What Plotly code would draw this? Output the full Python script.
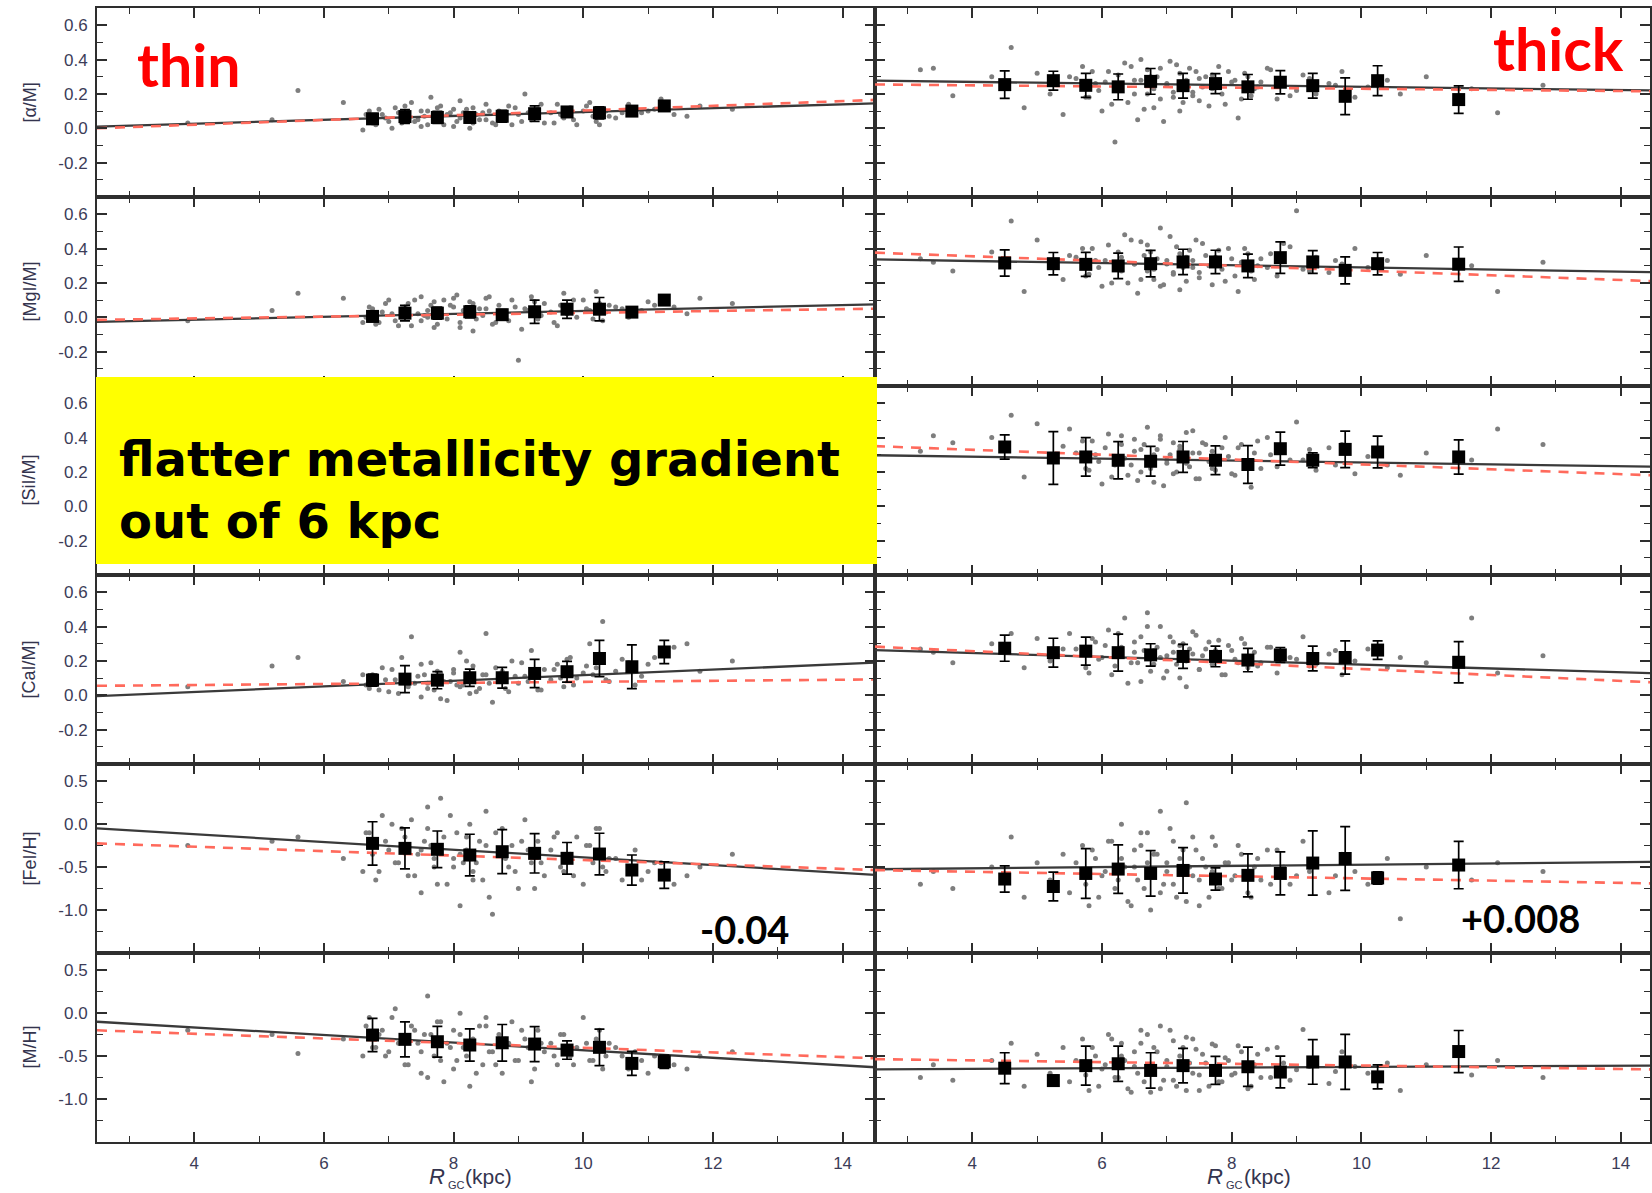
import plotly.graph_objects as go
from plotly.subplots import make_subplots

# ---------------- data ----------------
row_labels = ["[\u03b1/M]", "[MgI/M]", "[SiI/M]", "[CaI/M]", "[FeI/H]", "[M/H]"]

fit_x = [2.5, 14.5]

# thin disc: binned means
thin_bins = [6.75, 7.25, 7.75, 8.25, 8.75, 9.25, 9.75, 10.25, 10.75, 11.25]
thin_alpha = [0.055, 0.068, 0.063, 0.063, 0.07, 0.085, 0.095, 0.09, 0.10, 0.13]
thin_alpha_err = [0.03, 0.04, 0.035, 0.03, 0.035, 0.045, 0.03, 0.035, 0.025, 0.02]
thin_mg = [0.005, 0.024, 0.024, 0.032, 0.015, 0.032, 0.047, 0.047, 0.03, 0.10]
thin_mg_err = [0.03, 0.045, 0.035, 0.035, 0.03, 0.068, 0.053, 0.068, 0.02, 0.02]
thin_ca = [0.088, 0.094, 0.088, 0.102, 0.102, 0.127, 0.137, 0.214, 0.166, 0.252]
thin_ca_err = [0.035, 0.079, 0.05, 0.05, 0.06, 0.082, 0.06, 0.106, 0.127, 0.068]
thin_fe = [-0.224, -0.282, -0.293, -0.36, -0.321, -0.34, -0.398, -0.348, -0.534, -0.593]
thin_fe_err = [0.252, 0.239, 0.213, 0.242, 0.256, 0.229, 0.184, 0.242, 0.175, 0.155]
thin_mh = [-0.255, -0.305, -0.333, -0.371, -0.345, -0.36, -0.43, -0.398, -0.585, -0.566]
thin_mh_err = [0.194, 0.204, 0.179, 0.188, 0.213, 0.204, 0.107, 0.213, 0.14, 0.078]

# thin disc: fitted lines (black solid, red dashed) at fit_x
thin_alpha_fit = [0.01, 0.145]
thin_alpha_fit2 = [0.0, 0.165]
thin_mg_fit = [-0.027, 0.075]
thin_mg_fit2 = [-0.015, 0.05]
thin_ca_fit = [-0.005, 0.19]
thin_ca_fit2 = [0.055, 0.092]
thin_fe_fit = [-0.05, -0.59]
thin_fe_fit2 = [-0.224, -0.534]
thin_mh_fit = [-0.10, -0.63]
thin_mh_fit2 = [-0.20, -0.525]

# thick disc: binned means
thick_bins = [4.5, 5.25, 5.75, 6.25, 6.75, 7.25, 7.75, 8.25, 8.75, 9.25, 9.75, 10.25, 11.5]
thick_alpha = [0.254, 0.277, 0.25, 0.241, 0.273, 0.248, 0.26, 0.241, 0.268, 0.248, 0.186, 0.277, 0.167]
thick_alpha_err = [0.08, 0.055, 0.07, 0.075, 0.075, 0.072, 0.058, 0.072, 0.068, 0.072, 0.107, 0.087, 0.08]
thick_mg = [0.316, 0.312, 0.308, 0.299, 0.312, 0.322, 0.322, 0.299, 0.347, 0.322, 0.273, 0.312, 0.309]
thick_mg_err = [0.076, 0.065, 0.07, 0.074, 0.077, 0.074, 0.068, 0.068, 0.092, 0.066, 0.079, 0.065, 0.10]
thick_si = [0.345, 0.281, 0.287, 0.268, 0.262, 0.287, 0.268, 0.243, 0.335, 0.268, 0.331, 0.316, 0.287]
thick_si_err = [0.071, 0.154, 0.112, 0.108, 0.087, 0.09, 0.084, 0.11, 0.096, 0.043, 0.106, 0.092, 0.10]
thick_ca = [0.274, 0.248, 0.257, 0.248, 0.235, 0.226, 0.226, 0.205, 0.235, 0.214, 0.22, 0.263, 0.192]
thick_ca_err = [0.076, 0.084, 0.081, 0.108, 0.065, 0.07, 0.06, 0.068, 0.043, 0.072, 0.097, 0.054, 0.12]
thick_fe = [-0.639, -0.726, -0.574, -0.523, -0.574, -0.539, -0.639, -0.596, -0.574, -0.453, -0.4, -0.626, -0.476]
thick_fe_err = [0.152, 0.167, 0.289, 0.282, 0.265, 0.265, 0.13, 0.25, 0.25, 0.374, 0.37, 0.072, 0.276]
thick_mh = [-0.641, -0.785, -0.611, -0.589, -0.667, -0.611, -0.667, -0.624, -0.686, -0.568, -0.568, -0.742, -0.447]
thick_mh_err = [0.18, 0.06, 0.228, 0.206, 0.206, 0.2, 0.163, 0.228, 0.185, 0.26, 0.32, 0.14, 0.245]

thick_alpha_fit = [0.277, 0.22]
thick_alpha_fit2 = [0.255, 0.215]
thick_mg_fit = [0.337, 0.262]
thick_mg_fit2 = [0.376, 0.21]
thick_si_fit = [0.297, 0.23]
thick_si_fit2 = [0.35, 0.18]
thick_ca_fit = [0.263, 0.128]
thick_ca_fit2 = [0.283, 0.075]
thick_fe_fit = [-0.525, -0.44]
thick_fe_fit2 = [-0.535, -0.69]
thick_mh_fit = [-0.655, -0.61]
thick_mh_fit2 = [-0.535, -0.655]

# individual stars (subset), galactocentric radius
thin_R = [3.9, 5.2, 5.6, 6.3, 6.6, 6.7, 6.8, 6.9, 7.0, 7.1, 7.2, 7.3, 7.35, 7.45, 7.5,
          7.6, 7.65, 7.7, 7.8, 7.85, 7.9, 8.0, 8.05, 8.1, 8.2, 8.25, 8.3, 8.4, 8.45, 8.5,
          8.6, 8.7, 8.75, 8.85, 8.9, 9.0, 9.1, 9.2, 9.3, 9.4, 9.5, 9.6, 9.7, 9.8, 9.9,
          10.0, 10.1, 10.2, 10.3, 10.4, 10.6, 10.8, 11.0, 11.2, 11.4, 11.6, 11.8, 12.3, 7.55, 8.15,
          6.65, 6.75, 6.85, 6.95, 7.05, 7.15, 7.25, 7.4, 7.5, 7.6, 7.7, 7.75, 7.8, 7.95, 8.0,
          8.1, 8.2, 8.3, 8.35, 8.5, 8.55, 8.65, 8.8, 8.95, 9.05, 9.15, 9.25, 9.35, 9.55, 9.65,
          9.75, 9.85, 10.05, 10.15, 10.25, 10.35, 10.5, 10.7, 10.9, 11.1]
thin_alpha_pts = [0.03, 0.05, 0.22, 0.15, -0.01, 0.10, 0.02, 0.08, 0.04, 0.12, 0.03, 0.09, 0.15, 0.05, 0.01,
                  0.10, 0.18, 0.06, 0.13, 0.02, 0.08, 0.11, 0.04, 0.16, 0.07, 0.00, 0.12, 0.05, 0.09, 0.14,
                  0.03, 0.10, 0.06, 0.13, 0.02, 0.08, 0.20, 0.05, 0.11, 0.03, 0.09, 0.14, 0.06, 0.12, 0.02,
                  0.10, 0.15, 0.04, 0.11, 0.07, 0.09, 0.12, 0.10, 0.17, 0.08, 0.07, 0.13, 0.11, 0.07, 0.09,
                  0.08, 0.03, 0.11, 0.06, 0.00, 0.09, 0.13, 0.04, 0.10, 0.02, 0.07, 0.12, 0.05, 0.09, 0.01,
                  0.06, 0.11, 0.03, 0.08, 0.05, 0.10, 0.02, 0.07, 0.12, 0.04, 0.09, 0.06, 0.14, 0.03, 0.08,
                  0.11, 0.05, 0.13, 0.07, 0.02, 0.10, 0.06, 0.14, 0.09, 0.11]
thin_mg_pts = [-0.02, 0.04, 0.14, 0.11, -0.03, 0.06, -0.04, 0.03, 0.10, -0.02, 0.05, 0.08, -0.05, 0.02, 0.12,
               0.00, 0.07, -0.06, 0.04, 0.10, -0.01, 0.06, 0.13, -0.03, 0.02, 0.09, -0.08, 0.05, 0.01, 0.11,
               -0.04, 0.07, 0.03, -0.02, 0.10, -0.25, 0.05, 0.12, -0.01, 0.08, 0.03, -0.05, 0.14, 0.06, 0.00,
               0.10, 0.04, 0.15, -0.02, 0.07, 0.05, 0.03, 0.09, 0.12, 0.06, 0.02, 0.11, 0.08, 0.01, 0.04,
               0.00, 0.05, -0.03, 0.08, 0.02, -0.05, 0.06, 0.10, -0.02, 0.04, 0.09, -0.04, 0.01, 0.07, 0.11,
               -0.06, 0.03, 0.08, -0.01, 0.05, 0.12, -0.03, 0.02, 0.06, -0.07, 0.04, 0.09, 0.01, -0.03, 0.07,
               0.02, 0.10, 0.05, -0.01, 0.08, 0.03, 0.06, 0.00, 0.04, 0.07]
thin_ca_pts = [0.05, 0.17, 0.22, 0.08, 0.12, 0.04, 0.10, 0.16, 0.02, 0.09, 0.22, 0.05, 0.34, 0.11, -0.01,
               0.07, 0.19, 0.03, 0.13, 0.08, -0.03, 0.15, 0.06, 0.25, 0.10, 0.01, 0.17, 0.04, 0.12, 0.36,
               -0.04, 0.09, 0.14, 0.02, 0.20, 0.07, 0.11, 0.26, 0.03, 0.15, 0.09, 0.18, 0.05, 0.22, 0.10,
               0.13, 0.30, 0.16, 0.43, 0.08, 0.21, 0.06, 0.18, 0.25, 0.28, 0.30, 0.14, 0.20, 0.12, 0.06,
               0.06, 0.12, 0.03, 0.09, 0.15, 0.01, 0.11, 0.07, 0.18, 0.04, 0.10, 0.14, -0.02, 0.08, 0.13,
               0.05, 0.20, 0.09, 0.02, 0.12, 0.07, 0.16, 0.04, 0.11, 0.19, 0.08, 0.13, 0.03, 0.15, 0.10,
               0.21, 0.06, 0.17, 0.12, 0.24, 0.09, 0.14, 0.19, 0.11, 0.22]
thin_fe_pts = [-0.25, -0.20, -0.15, -0.40, -0.55, -0.10, -0.65, 0.10, -0.30, -0.45, -0.05, -0.60, 0.05, -0.35, -0.80,
               0.20, -0.25, -0.50, 0.30, -0.15, -0.70, -0.40, -0.10, -0.95, -0.30, 0.00, -0.55, -0.20, -0.65, 0.15,
               -1.05, -0.35, -0.05, -0.50, -0.25, -0.75, 0.05, -0.45, -0.20, -0.60, -0.30, -0.10, -0.55, -0.35, -0.15,
               -0.70, -0.25, -0.05, -0.50, -0.40, -0.65, -0.30, -0.55, -0.45, -0.70, -0.60, -0.50, -0.35, -0.20, -0.45,
               -0.10, -0.35, -0.55, -0.20, 0.00, -0.45, -0.15, -0.60, -0.30, -0.05, -0.40, -0.70, -0.25, 0.10, -0.50,
               -0.35, -0.15, -0.65, -0.45, -0.25, -0.85, -0.10, -0.40, -0.55, -0.20, -0.30, -0.75, -0.45, -0.15, -0.50,
               -0.35, -0.60, -0.25, -0.45, -0.05, -0.55, -0.40, -0.50, -0.65, -0.45]
thin_mh_pts = [-0.20, -0.25, -0.47, -0.30, -0.50, -0.05, -0.40, -0.20, -0.45, 0.05, -0.30, -0.60, -0.15, -0.35, -0.70,
               0.20, -0.25, -0.50, -0.10, -0.80, -0.35, -0.20, -0.55, 0.00, -0.40, -0.85, -0.30, -0.15, -0.60, -0.05,
               -0.45, -0.25, -0.70, -0.35, -0.10, -0.55, -0.30, -0.80, -0.20, -0.45, -0.35, -0.60, -0.25, -0.50, -0.40,
               -0.05, -0.55, -0.30, -0.65, -0.35, -0.50, -0.45, -0.70, -0.55, -0.60, -0.65, -0.50, -0.45, -0.25, -0.40,
               -0.15, -0.40, -0.25, -0.50, -0.05, -0.35, -0.60, -0.20, -0.45, -0.75, -0.30, -0.10, -0.55, -0.40, -0.65,
               -0.25, -0.50, -0.35, -0.70, -0.15, -0.45, -0.60, -0.30, -0.55, -0.20, -0.40, -0.65, -0.35, -0.50, -0.25,
               -0.45, -0.60, -0.35, -0.55, -0.20, -0.50, -0.40, -0.65, -0.55, -0.50]

thick_R = [3.2, 3.4, 3.7, 4.3, 4.6, 4.8, 5.0, 5.2, 5.4, 5.5, 5.7, 5.8, 5.9, 6.0, 6.1,
           6.2, 6.3, 6.35, 6.4, 6.5, 6.55, 6.6, 6.7, 6.75, 6.8, 6.9, 6.95, 7.0, 7.1, 7.15,
           7.2, 7.3, 7.4, 7.45, 7.5, 7.6, 7.7, 7.8, 7.9, 8.0, 8.1, 8.2, 8.3, 8.4, 8.6,
           8.7, 8.8, 9.0, 9.1, 9.3, 9.5, 9.7, 9.9, 10.1, 10.4, 10.6, 11.0, 11.7, 12.1, 12.8,
           5.6, 5.75, 5.85, 5.95, 6.05, 6.15, 6.25, 6.3, 6.45, 6.5, 6.6, 6.65, 6.7, 6.8, 6.85,
           6.9, 7.0, 7.05, 7.1, 7.2, 7.25, 7.3, 7.35, 7.4, 7.5, 7.55, 7.65, 7.7, 7.75, 7.85,
           7.95, 8.05, 8.15, 8.25, 8.35, 8.45, 8.55, 8.9, 9.2, 9.6]
thick_alpha_pts = [0.34, 0.35, 0.19, 0.30, 0.47, 0.12, 0.32, 0.20, 0.08, 0.30, 0.36, 0.18, 0.26, 0.10, 0.33,
                   -0.08, 0.22, 0.38, 0.15, 0.28, 0.05, 0.40, 0.20, 0.30, 0.12, 0.35, 0.04, 0.25, 0.18, 0.37,
                   0.10, 0.28, 0.21, 0.33, 0.16, 0.30, 0.23, 0.36, 0.14, 0.27, 0.06, 0.32, 0.19, 0.24, 0.34,
                   0.17, 0.29, 0.22, 0.31, 0.20, 0.26, 0.33, 0.18, 0.24, 0.28, 0.20, 0.30, 0.23, 0.09, 0.25,
                   0.29, 0.18, 0.33, 0.22, 0.27, 0.14, 0.31, 0.25, 0.36, 0.20, 0.28, 0.11, 0.34, 0.23, 0.30,
                   0.17, 0.26, 0.39, 0.21, 0.32, 0.15, 0.27, 0.35, 0.19, 0.29, 0.24, 0.13, 0.31, 0.26, 0.20,
                   0.33, 0.28, 0.17, 0.30, 0.23, 0.27, 0.35, 0.19, 0.29, 0.25]
thick_mg_pts = [0.34, 0.32, 0.27, 0.38, 0.56, 0.15, 0.45, 0.30, 0.22, 0.36, 0.40, 0.25, 0.33, 0.18, 0.42,
                0.28, 0.35, 0.48, 0.20, 0.31, 0.14, 0.44, 0.27, 0.38, 0.22, 0.52, 0.19, 0.33, 0.26, 0.41,
                0.16, 0.35, 0.29, 0.45, 0.23, 0.36, 0.31, 0.39, 0.21, 0.34, 0.15, 0.40, 0.27, 0.30, 0.37,
                0.24, 0.43, 0.62, 0.28, 0.35, 0.26, 0.31, 0.40, 0.29, 0.33, 0.25, 0.36, 0.30, 0.15, 0.32,
                0.35, 0.24, 0.40, 0.29, 0.33, 0.20, 0.38, 0.27, 0.45, 0.31, 0.22, 0.36, 0.42, 0.28, 0.34,
                0.18, 0.31, 0.47, 0.25, 0.37, 0.29, 0.21, 0.39, 0.33, 0.26, 0.43, 0.30, 0.19, 0.35, 0.28,
                0.40, 0.24, 0.32, 0.37, 0.22, 0.34, 0.29, 0.41, 0.27, 0.33]
thick_si_pts = [0.32, 0.41, 0.37, 0.40, 0.53, 0.17, 0.48, 0.26, 0.35, 0.45, 0.38, 0.21, 0.30, 0.13, 0.42,
                0.24, 0.36, 0.28, 0.18, 0.39, 0.15, 0.33, 0.46, 0.22, 0.30, 0.41, 0.12, 0.27, 0.37, 0.20,
                0.33, 0.25, 0.44, 0.16, 0.31, 0.36, 0.22, 0.28, 0.40, 0.19, 0.34, 0.26, 0.11, 0.38, 0.30,
                0.23, 0.35, 0.49, 0.27, 0.21, 0.34, 0.36, 0.19, 0.29, 0.24, 0.18, 0.31, 0.27, 0.45, 0.36,
                0.31, 0.22, 0.38, 0.26, 0.34, 0.17, 0.29, 0.41, 0.24, 0.32, 0.20, 0.36, 0.27, 0.14, 0.33,
                0.39, 0.25, 0.30, 0.19, 0.35, 0.28, 0.43, 0.23, 0.31, 0.16, 0.37, 0.26, 0.32, 0.21, 0.34,
                0.29, 0.18, 0.36, 0.25, 0.31, 0.22, 0.40, 0.27, 0.33, 0.24]
thick_ca_pts = [0.27, 0.25, 0.19, 0.30, 0.36, 0.16, 0.33, 0.20, 0.27, 0.36, 0.24, 0.13, 0.31, 0.22, 0.38,
                0.17, 0.28, 0.45, 0.07, 0.25, 0.19, 0.34, 0.48, 0.14, 0.26, 0.40, 0.10, 0.23, 0.31, 0.18,
                0.29, 0.05, 0.24, 0.35, 0.15, 0.27, 0.21, 0.32, 0.12, 0.26, 0.19, 0.30, 0.22, 0.17, 0.28,
                0.13, 0.25, 0.21, 0.34, 0.18, 0.24, 0.12, 0.20, 0.27, 0.16, 0.22, 0.19, 0.45, 0.13, 0.23,
                0.27, 0.16, 0.33, 0.21, 0.29, 0.12, 0.36, 0.24, 0.19, 0.31, 0.08, 0.26, 0.40, 0.18, 0.28,
                0.22, 0.14, 0.34, 0.25, 0.10, 0.30, 0.20, 0.27, 0.37, 0.15, 0.23, 0.31, 0.18, 0.26, 0.12,
                0.29, 0.21, 0.33, 0.16, 0.25, 0.19, 0.28, 0.22, 0.17, 0.26]
thick_fe_pts = [-0.70, -0.55, -0.75, -0.50, -0.15, -0.85, -0.45, -0.65, -0.35, -0.80, -0.25, -0.95, -0.40, -0.60, -0.20,
                -0.75, 0.00, -0.50, -0.90, -0.30, -0.65, -0.10, -0.45, -1.00, -0.35, 0.15, -0.70, -0.55, -0.20, -0.85,
                -0.40, 0.25, -0.60, -0.30, -0.95, -0.50, -0.15, -0.75, -0.45, -0.65, -0.25, -0.55, -0.85, -0.40, -0.70,
                -0.30, -0.50, -0.60, -0.20, -0.45, -0.80, -0.35, -0.55, -0.70, -0.40, -1.10, -0.50, -0.65, -0.45, -0.55,
                -0.45, -0.70, -0.30, -0.85, -0.55, -0.20, -0.65, -0.40, -0.95, -0.50, -0.25, -0.75, -0.10, -0.60, -0.35,
                -0.80, -0.45, -0.05, -0.70, -0.55, -0.30, -0.90, -0.50, -0.15, -0.65, -0.40, -0.85, -0.55, -0.25, -0.75,
                -0.45, -0.60, -0.35, -0.80, -0.50, -0.65, -0.30, -0.70, -0.55, -0.60]
thick_mh_pts = [-0.75, -0.60, -0.78, -0.55, -0.35, -0.85, -0.48, -0.70, -0.40, -0.80, -0.30, -0.90, -0.50, -0.65, -0.25,
                -0.75, -0.35, -0.55, -0.88, -0.45, -0.70, -0.20, -0.60, -0.92, -0.40, -0.15, -0.78, -0.62, -0.32, -0.85,
                -0.50, -0.28, -0.70, -0.42, -0.90, -0.58, -0.36, -0.80, -0.52, -0.72, -0.38, -0.64, -0.85, -0.48, -0.75,
                -0.40, -0.58, -0.66, -0.19, -0.55, -0.82, -0.45, -0.62, -0.70, -0.58, -0.90, -0.60, -0.72, -0.55, -0.75,
                -0.55, -0.72, -0.40, -0.85, -0.60, -0.30, -0.75, -0.50, -0.92, -0.62, -0.35, -0.80, -0.25, -0.68, -0.45,
                -0.88, -0.55, -0.20, -0.78, -0.62, -0.40, -0.90, -0.58, -0.30, -0.72, -0.48, -0.85, -0.65, -0.38, -0.80,
                -0.55, -0.70, -0.45, -0.88, -0.60, -0.75, -0.42, -0.78, -0.62, -0.68]

x_ticks = [4, 6, 8, 10, 12, 14]
x_minor = [3, 5, 7, 9, 11, 13]
y_ticks_ab = [-0.2, 0.0, 0.2, 0.4, 0.6]
y_minor_ab = [-0.3, -0.1, 0.1, 0.3, 0.5]
y_ticks_fe = [-1.0, -0.5, 0.0, 0.5]
y_minor_fe = [-1.25, -0.75, -0.25, 0.25]

# ---------------- layout helpers ----------------
W, H = 1652, 1193
ML, MT, MB, MR = 97, 8, 51, 0
PW, PH = W - ML - MR, H - MT - MB


def fx(px):
    return (px - ML) / PW


def fy(py):
    return (H - MB - py) / PH


fig = make_subplots(rows=6, cols=2, horizontal_spacing=0, vertical_spacing=0,
                    column_widths=[779, 776])

PT_COLOR = "#7e7e7e"
LINE_BLACK = "#3a3a3a"
RED = "#ff6a5c"

panels = {
    (1, 1): (thin_R, thin_alpha_pts, thin_bins, thin_alpha, thin_alpha_err, thin_alpha_fit, thin_alpha_fit2),
    (2, 1): (thin_R, thin_mg_pts, thin_bins, thin_mg, thin_mg_err, thin_mg_fit, thin_mg_fit2),
    (4, 1): (thin_R, thin_ca_pts, thin_bins, thin_ca, thin_ca_err, thin_ca_fit, thin_ca_fit2),
    (5, 1): (thin_R, thin_fe_pts, thin_bins, thin_fe, thin_fe_err, thin_fe_fit, thin_fe_fit2),
    (6, 1): (thin_R, thin_mh_pts, thin_bins, thin_mh, thin_mh_err, thin_mh_fit, thin_mh_fit2),
    (1, 2): (thick_R, thick_alpha_pts, thick_bins, thick_alpha, thick_alpha_err, thick_alpha_fit, thick_alpha_fit2),
    (2, 2): (thick_R, thick_mg_pts, thick_bins, thick_mg, thick_mg_err, thick_mg_fit, thick_mg_fit2),
    (3, 2): (thick_R, thick_si_pts, thick_bins, thick_si, thick_si_err, thick_si_fit, thick_si_fit2),
    (4, 2): (thick_R, thick_ca_pts, thick_bins, thick_ca, thick_ca_err, thick_ca_fit, thick_ca_fit2),
    (5, 2): (thick_R, thick_fe_pts, thick_bins, thick_fe, thick_fe_err, thick_fe_fit, thick_fe_fit2),
    (6, 2): (thick_R, thick_mh_pts, thick_bins, thick_mh, thick_mh_err, thick_mh_fit, thick_mh_fit2),
}

for (r, c), (sx, sy, bx, by, be, f1, f2) in panels.items():
    fig.add_trace(go.Scatter(x=sx, y=sy, mode="markers",
                             marker=dict(size=5, color=PT_COLOR, symbol="circle"),
                             showlegend=False, hoverinfo="skip"), row=r, col=c)
    fig.add_trace(go.Scatter(x=fit_x, y=f1, mode="lines",
                             line=dict(color=LINE_BLACK, width=2.3),
                             showlegend=False), row=r, col=c)
    fig.add_trace(go.Scatter(x=fit_x, y=f2, mode="lines",
                             line=dict(color=RED, width=2.6, dash="10px,8px"),
                             showlegend=False), row=r, col=c)
    fig.add_trace(go.Scatter(x=bx, y=by, mode="markers",
                             marker=dict(size=13, color="black", symbol="square"),
                             error_y=dict(type="data", array=be, color="black", thickness=1.7, width=5),
                             showlegend=False), row=r, col=c)

# the thin [SiI/M] panel lies under the yellow box: keep its axes drawn
fig.add_trace(go.Scatter(x=[], y=[], mode="markers", showlegend=False), row=3, col=1)

axis_common = dict(showline=True, linecolor="#2e2e2e", linewidth=2, mirror="allticks",
                   ticks="inside", ticklen=10, tickwidth=1.6, tickcolor="#2e2e2e",
                   showgrid=False, zeroline=False,
                   tickfont=dict(family="Liberation Sans", size=17, color="#3c3c58"))

for r in range(1, 7):
    for c in (1, 2):
        fig.update_xaxes(row=r, col=c, **axis_common,
                         range=[2.5, 14.5] if c == 1 else [2.5, 14.45],
                         tickmode="array", tickvals=x_ticks, ticktext=[str(v) for v in x_ticks],
                         minor=dict(tickvals=x_minor, ticks="inside", ticklen=6,
                                    tickwidth=1.4, tickcolor="#2e2e2e", showgrid=False),
                         showticklabels=(r == 6), ticklabelstandoff=5)
        if r <= 4:
            yt, ym, yr = y_ticks_ab, y_minor_ab, [-0.4, 0.7]
        else:
            yt, ym, yr = y_ticks_fe, y_minor_fe, [-1.5, 0.7]
        fig.update_yaxes(row=r, col=c, **axis_common, range=yr,
                         tickmode="array", tickvals=yt, ticktext=["%.1f" % v for v in yt],
                         minor=dict(tickvals=ym, ticks="inside", ticklen=6,
                                    tickwidth=1.4, tickcolor="#2e2e2e", showgrid=False),
                         showticklabels=(c == 1), ticklabelstandoff=4)

annotations = []
row_h = PH / 6
for i, lab in enumerate(row_labels):
    cy = MT + row_h * (i + 0.5)
    annotations.append(dict(x=fx(29), y=fy(cy), xref="paper", yref="paper", text=lab,
                            textangle=-90, showarrow=False, xanchor="center", yanchor="middle",
                            font=dict(family="Liberation Sans", size=18, color="#34344e")))

# x-axis titles  R_GC (kpc)  (the "8" above is the tick label)
for (xr, xg, xk) in [(437, 457, 463), (1216, 1236, 1243)]:
    annotations.append(dict(x=fx(xr), y=fy(1176), xref="paper", yref="paper", text="<i>R</i>",
                            showarrow=False, xanchor="center", yanchor="middle",
                            font=dict(family="Liberation Sans", size=22, color="#34344e")))
    annotations.append(dict(x=fx(xg), y=fy(1185), xref="paper", yref="paper", text="GC",
                            showarrow=False, xanchor="center", yanchor="middle",
                            font=dict(family="Liberation Sans", size=11, color="#34344e")))
    annotations.append(dict(x=fx(xk), y=fy(1176), xref="paper", yref="paper", text="(kpc)",
                            showarrow=False, xanchor="left", yanchor="middle",
                            font=dict(family="Liberation Sans", size=21, color="#34344e")))

annotations += [
    dict(x=fx(135), y=fy(64), xref="paper", yref="paper", text="<b>thin</b>", showarrow=False,
         xanchor="left", yanchor="middle", font=dict(family="Lato", size=59, color="#ff0000")),
    dict(x=fx(1628), y=fy(48), xref="paper", yref="paper", text="<b>thick</b>", showarrow=False,
         xanchor="right", yanchor="middle", font=dict(family="Lato", size=59, color="#ff0000")),
    dict(x=fx(117), y=fy(490), xref="paper", yref="paper",
         text="<b>flatter metallicity gradient<br>out of 6 kpc</b>", showarrow=False, align="left",
         xanchor="left", yanchor="middle", font=dict(family="DejaVu Sans", size=48, color="black")),
    dict(x=fx(699), y=fy(929), xref="paper", yref="paper", text="<b>-0.04</b>", showarrow=False,
         xanchor="left", yanchor="middle", font=dict(family="Lato", size=38, color="black")),
    dict(x=fx(1461), y=fy(918), xref="paper", yref="paper", text="<b>+0.008</b>", showarrow=False,
         xanchor="left", yanchor="middle", font=dict(family="Lato", size=38, color="black")),
]

fig.update_layout(
    width=W, height=H,
    margin=dict(l=ML, r=MR, t=MT, b=MB, pad=0),
    paper_bgcolor="white", plot_bgcolor="white",
    showlegend=False,
    annotations=annotations,
    shapes=[dict(type="rect", xref="paper", yref="paper",
                 x0=fx(96), x1=fx(878), y0=fy(564), y1=fy(377),
                 fillcolor="#ffff00", line=dict(width=0), layer="above")],
)

fig.write_html("out.html")
